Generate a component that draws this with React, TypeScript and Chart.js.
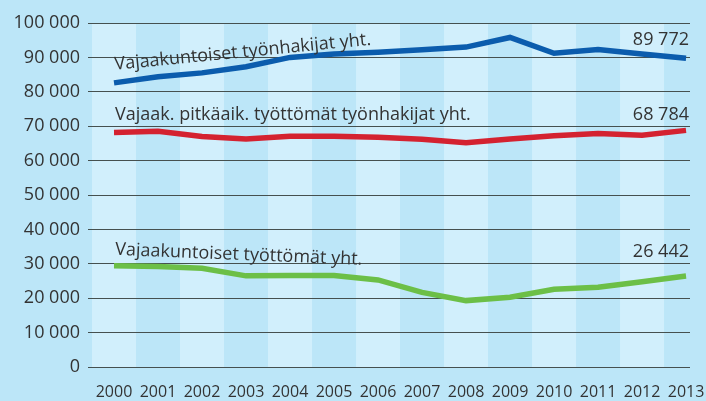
import React, { useEffect, useRef } from 'react';
import { Chart, registerables } from 'chart.js';

Chart.register(...registerables);

const years = ['2000', '2001', '2002', '2003', '2004', '2005', '2006', '2007', '2008', '2009', '2010', '2011', '2012', '2013'];
const totalJobseekers = [82600, 84400, 85500, 87300, 90000, 91000, 91500, 92200, 93000, 95800, 91200, 92300, 91000, 89772];
const longTermUnemployed = [68200, 68500, 67000, 66300, 67100, 67100, 66800, 66200, 65200, 66300, 67200, 67900, 67400, 68784];
const unemployed = [29400, 29200, 28700, 26500, 26600, 26600, 25300, 21700, 19300, 20300, 22600, 23200, 24800, 26442];
const seriesLabels = [
  'Vajaakuntoiset työnhakijat yht.',
  'Vajaak. pitkäaik. työttömät työnhakijat yht.',
  'Vajaakuntoiset työttömät yht.',
];
const yTicks = [0, 10000, 20000, 30000, 40000, 50000, 60000, 70000, 80000, 90000, 100000];

const fmt = (n: number) => String(n).replace(/\B(?=(\d{3})+(?!\d))/g, ' ');

const FONT = "'Open Sans', sans-serif";
const TEXT = '#333333';
const BG = '#bce6f8';
const BAND = '#d1effc';

const toPts = (arr: number[]) => arr.map((v, i) => ({ x: i, y: v }));

export default function App() {
  const ref = useRef<HTMLCanvasElement | null>(null);

  useEffect(() => {
    document.body.style.margin = '0';
    const canvas = ref.current;
    if (!canvas) return;

    const bgPlugin = {
      id: 'bands',
      beforeDraw(chart: any) {
        const { ctx, chartArea } = chart;
        const xs = chart.scales.x;
        ctx.save();
        ctx.fillStyle = BG;
        ctx.fillRect(0, 0, chart.width, chart.height);
        ctx.beginPath();
        ctx.rect(chartArea.left, chartArea.top, chartArea.right - chartArea.left, chartArea.bottom - chartArea.top);
        ctx.clip();
        ctx.fillStyle = BAND;
        years.forEach((_, i) => {
          if (i % 2 === 0) {
            const a = xs.getPixelForValue(i - 0.5);
            const b = xs.getPixelForValue(i + 0.5);
            ctx.fillRect(a, chartArea.top, b - a, chartArea.bottom - chartArea.top);
          }
        });
        ctx.restore();
      },
    };

    const textPlugin = {
      id: 'labels',
      afterDatasetsDraw(chart: any) {
        const { ctx, chartArea } = chart;
        const xs = chart.scales.x;
        const ys = chart.scales.y;
        ctx.save();
        ctx.fillStyle = TEXT;
        ctx.font = `18px ${FONT}`;
        ctx.textBaseline = 'alphabetic';
        const x0 = xs.getPixelForValue(0);
        const series = [totalJobseekers, longTermUnemployed, unemployed];
        const nameOff = [13, 12, 11];
        const nameRot = [-5.6, 0, 2.3];
        series.forEach((s, k) => {
          ctx.save();
          ctx.translate(x0 + 1, ys.getPixelForValue(s[0]) - nameOff[k]);
          ctx.rotate((nameRot[k] * Math.PI) / 180);
          ctx.textAlign = 'left';
          ctx.fillText(seriesLabels[k], 0, 0);
          ctx.restore();
        });
        const valOff = [13, 10, 19];
        series.forEach((s, k) => {
          const last = s[s.length - 1];
          ctx.textAlign = 'right';
          ctx.fillText(fmt(last), chartArea.right - 1, ys.getPixelForValue(last) - valOff[k]);
        });
        ctx.restore();
      },
    };

    const chart = new Chart(canvas, {
      type: 'line',
      data: {
        datasets: [
          { label: seriesLabels[0], data: toPts(totalJobseekers), borderColor: '#0b5cad', borderWidth: 5.5, pointRadius: 0, tension: 0 },
          { label: seriesLabels[1], data: toPts(longTermUnemployed), borderColor: '#d42230', borderWidth: 5.5, pointRadius: 0, tension: 0 },
          { label: seriesLabels[2], data: toPts(unemployed), borderColor: '#6cbf47', borderWidth: 5.5, pointRadius: 0, tension: 0 },
        ],
      },
      options: {
        responsive: false,
        animation: false,
        layout: { padding: { top: 23, right: 16, left: 0, bottom: 0 } },
        plugins: { legend: { display: false }, tooltip: { enabled: false } },
        scales: {
          x: {
            type: 'linear',
            min: -0.5,
            max: 13.09,
            afterBuildTicks: (s: any) => {
              s.ticks = years.map((_, i) => ({ value: i }));
            },
            afterFit: (s: any) => {
              s.height = 34;
              s.paddingLeft = 0;
              s.paddingRight = 0;
            },
            grid: { display: false, drawTicks: false },
            border: { display: false },
            ticks: {
              padding: 16,
              autoSkip: false,
              maxRotation: 0,
              color: TEXT,
              font: { family: FONT, size: 16 },
              callback: (v: any) => years[v] ?? '',
            },
          },
          y: {
            min: 0,
            max: 100000,
            afterBuildTicks: (s: any) => {
              s.ticks = yTicks.map((v) => ({ value: v }));
            },
            afterFit: (s: any) => {
              s.width = 92;
              s.paddingTop = 0;
              s.paddingBottom = 0;
            },
            grid: { color: '#45504f', lineWidth: 1, tickLength: 4, drawTicks: true },
            border: { display: false },
            ticks: {
              padding: 8,
              color: TEXT,
              font: { family: FONT, size: 18 },
              callback: (v: any) => fmt(Number(v)),
            },
          },
        },
      },
      plugins: [bgPlugin, textPlugin],
    } as any);

    return () => chart.destroy();
  }, []);

  return (
    <div style={{ width: 706, height: 401, background: BG }}>
      <canvas ref={ref} width={706} height={401} style={{ display: 'block' }} />
    </div>
  );
}
